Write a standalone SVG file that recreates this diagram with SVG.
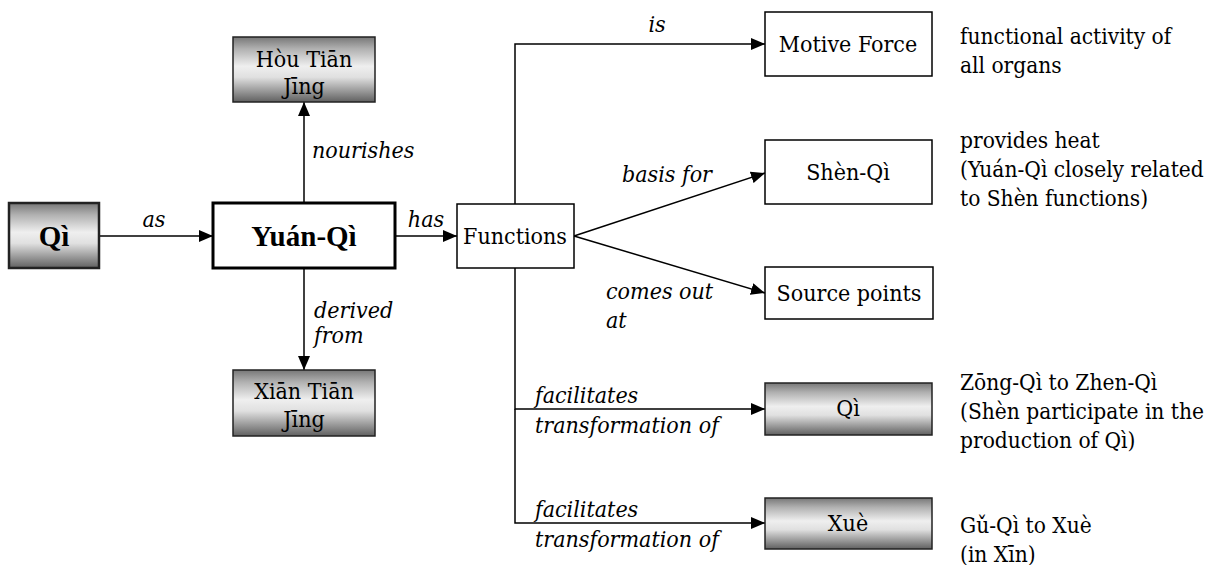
<svg xmlns="http://www.w3.org/2000/svg" width="1226" height="565" viewBox="0 0 1226 565">
  <defs>
    <!-- metallic shading used by the shaded nodes -->
    <linearGradient id="metal" x1="0" y1="0" x2="0" y2="1">
      <stop offset="0" stop-color="#777777"/>
      <stop offset="0.18" stop-color="#b0b0b0"/>
      <stop offset="0.45" stop-color="#efefef"/>
      <stop offset="0.62" stop-color="#e0e0e0"/>
      <stop offset="1" stop-color="#606060"/>
    </linearGradient>
    <marker id="arrow" markerUnits="userSpaceOnUse" markerWidth="14" markerHeight="12" viewBox="0 0 14 12" refX="14" refY="6" orient="auto">
      <path d="M0,0 L14,6 L0,12 Z" fill="#000"/>
    </marker>
    <style>
      text { fill: #000; font-family: "DejaVu Serif Condensed", "DejaVu Serif", serif; font-size: 23px; }
      .node { text-anchor: middle; }
      .note { font-size: 22.5px; }
      .big { font-family: "Times New Roman", "Liberation Serif", serif; font-size: 29px; font-weight: bold; text-anchor: middle; }
      .lbl { font-style: italic; }
      .plain { fill: #fff; stroke: #000; stroke-width: 1.5; }
      .shade { fill: url(#metal); stroke: #222; stroke-width: 1.5; }
      .edge { fill: none; stroke: #000; stroke-width: 1.5; }
    </style>
  </defs>

  <rect width="1226" height="565" fill="#fff"/>

  <!-- connectors and their labels -->
  <g id="connectors">
    <line class="edge" x1="99" y1="236" x2="213" y2="236" marker-end="url(#arrow)"/>
    <line class="edge" x1="395" y1="236" x2="457" y2="236" marker-end="url(#arrow)"/>
    <line class="edge" x1="304" y1="203" x2="304" y2="102" marker-end="url(#arrow)"/>
    <line class="edge" x1="304" y1="268" x2="304" y2="370" marker-end="url(#arrow)"/>
    <polyline class="edge" points="515,204 515,44 765,44" marker-end="url(#arrow)"/>
    <line class="edge" x1="574" y1="236" x2="765" y2="173" marker-end="url(#arrow)"/>
    <line class="edge" x1="574" y1="236" x2="765" y2="293" marker-end="url(#arrow)"/>
    <polyline class="edge" points="515,268 515,409 765,409" marker-end="url(#arrow)"/>
    <polyline class="edge" points="515,409 515,523 765,523" marker-end="url(#arrow)"/>

    <text class="lbl" x="154" y="227" text-anchor="middle">as</text>
    <text class="lbl" x="426" y="227" text-anchor="middle">has</text>
    <text class="lbl" x="312" y="158">nourishes</text>
    <text class="lbl" x="314" y="318">derived</text>
    <text class="lbl" x="314" y="343">from</text>
    <text class="lbl" x="657" y="32" text-anchor="middle">is</text>
    <text class="lbl" x="667" y="182" text-anchor="middle">basis for</text>
    <text class="lbl" x="606" y="299">comes out</text>
    <text class="lbl" x="606" y="328">at</text>
    <text class="lbl" x="535" y="403">facilitates</text>
    <text class="lbl" x="535" y="433">transformation of</text>
    <text class="lbl" x="535" y="517">facilitates</text>
    <text class="lbl" x="535" y="547">transformation of</text>
  </g>

  <g id="node-qi-source">
    <rect class="shade" x="9" y="203" width="90" height="65" style="stroke-width:2.5"/>
    <text class="big" x="54" y="246">Qì</text>
  </g>

  <g id="node-yuan-qi">
    <rect class="plain" x="213" y="203" width="182" height="65" style="stroke-width:3"/>
    <text class="big" x="304" y="246">Yuán-Qì</text>
  </g>

  <g id="node-hou-tian">
    <rect class="shade" x="233" y="37" width="142" height="65"/>
    <text class="node" x="304" y="67">Hòu Tiān</text>
    <text class="node" x="304" y="94">Jīng</text>
  </g>

  <g id="node-xian-tian">
    <rect class="shade" x="233" y="370" width="142" height="66"/>
    <text class="node" x="304" y="399">Xiān Tiān</text>
    <text class="node" x="304" y="427">Jīng</text>
  </g>

  <g id="node-functions">
    <rect class="plain" x="457" y="204" width="117" height="64"/>
    <text class="node" x="515" y="244">Functions</text>
  </g>

  <g id="node-motive-force">
    <rect class="plain" x="765" y="12" width="167" height="64"/>
    <text class="node" x="848" y="52">Motive Force</text>
    <text class="note" x="960" y="44">functional activity of</text>
    <text class="note" x="960" y="73">all organs</text>
  </g>

  <g id="node-shen-qi">
    <rect class="plain" x="765" y="140" width="167" height="64"/>
    <text class="node" x="848" y="180">Shèn-Qì</text>
    <text class="note" x="960" y="148">provides heat</text>
    <text class="note" x="960" y="177">(Yuán-Qì closely related</text>
    <text class="note" x="960" y="206">to Shèn functions)</text>
  </g>

  <g id="node-source-points">
    <rect class="plain" x="765" y="267" width="168" height="52"/>
    <text class="node" x="849" y="301">Source points</text>
  </g>

  <g id="node-qi-target">
    <rect class="shade" x="765" y="383" width="167" height="52"/>
    <text class="node" x="848" y="416">Qì</text>
    <text class="note" x="960" y="390">Zōng-Qì to Zhen-Qì</text>
    <text class="note" x="960" y="419">(Shèn participate in the</text>
    <text class="note" x="960" y="448">production of Qì)</text>
  </g>

  <g id="node-xue">
    <rect class="shade" x="765" y="498" width="167" height="51"/>
    <text class="node" x="848" y="531">Xuè</text>
    <text class="note" x="960" y="533">Gǔ-Qì to Xuè</text>
    <text class="note" x="960" y="562">(in Xīn)</text>
  </g>
</svg>
